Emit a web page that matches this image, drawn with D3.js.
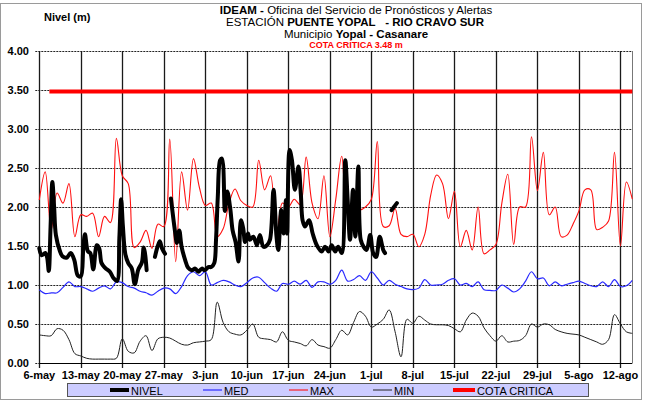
<!DOCTYPE html>
<html><head><meta charset="utf-8">
<script src="https://cdn.jsdelivr.net/npm/d3@7"></script>
<style>body{margin:0;background:#fff}svg{display:block}text{font-family:"Liberation Sans",Arial,sans-serif}</style>
</head><body><svg id="c" width="651" height="401"></svg>
<script>
// ---- data ----
const tickLabels = ["6-may","13-may","20-may","27-may","3-jun","10-jun","17-jun","24-jun","1-jul","8-jul","15-jul","22-jul","29-jul","5-ago","12-ago"];
const tickDays = [0,7,14,21,28,35,42,49,56,63,70,77,84,91,98];
const yTicks = [0,0.5,1,1.5,2,2.5,3,3.5,4];
const dayIndex = d3.range(0,101);
const maxVals = [2.09,2.45,1.70,2.18,2.05,2.30,1.62,1.90,1.88,1.92,1.62,1.88,1.80,2.88,2.40,2.30,1.48,1.55,1.70,1.47,
  1.78,1.75,2.87,1.30,2.45,1.96,2.62,2.25,2.02,2.05,1.62,1.72,2.05,2.23,2.08,2.02,2.00,2.60,2.22,2.40,
  1.62,2.05,2.00,2.10,2.03,2.64,2.05,1.85,2.40,1.62,2.10,2.65,2.00,1.96,1.96,2.00,2.10,2.84,1.75,1.76,
  1.98,1.65,1.62,1.65,1.49,1.65,2.15,2.41,2.30,1.85,2.20,1.49,1.70,1.45,2.00,1.40,1.45,1.52,2.05,2.42,
  1.52,2.00,2.00,2.90,2.21,2.70,1.90,2.00,1.62,1.64,1.78,1.95,2.22,2.22,1.71,1.74,1.82,2.70,1.50,2.32,2.10];
const medVals = [0.94,0.89,0.90,0.90,0.97,1.04,0.98,0.98,0.95,0.92,0.96,0.99,0.95,1.04,1.03,0.98,0.96,0.92,0.90,0.87,
  0.92,0.96,0.95,0.89,0.98,1.12,1.17,1.12,1.17,1.00,1.03,1.06,1.04,1.00,0.98,1.03,1.09,1.10,1.03,0.96,
  0.92,1.02,1.01,1.05,1.01,1.06,0.97,1.04,1.04,1.01,1.06,1.19,1.05,1.07,1.12,1.06,1.17,1.09,1.00,1.06,
  1.01,0.98,0.95,0.94,0.96,1.07,1.00,1.00,1.01,1.06,1.08,1.00,1.02,0.98,1.04,0.94,0.93,0.93,1.00,0.96,
  0.91,0.95,1.05,1.17,1.08,1.09,0.99,1.04,0.99,1.01,1.03,1.05,1.02,0.99,0.98,1.04,0.98,1.07,0.98,0.99,1.06];
const minVals = [0.36,0.35,0.35,0.44,0.42,0.30,0.12,0.09,0.06,0.05,0.05,0.05,0.05,0.06,0.31,0.15,0.13,0.28,0.35,0.16,
  0.31,0.33,0.32,0.28,0.24,0.23,0.26,0.27,0.28,0.30,0.78,0.52,0.40,0.37,0.36,0.42,0.50,0.33,0.31,0.30,
  0.27,0.40,0.29,0.27,0.25,0.22,0.30,0.23,0.21,0.19,0.30,0.42,0.36,0.52,0.66,0.60,0.46,0.50,0.56,0.68,
  0.40,0.08,0.56,0.51,0.60,0.55,0.50,0.49,0.49,0.48,0.44,0.40,0.55,0.64,0.60,0.45,0.35,0.28,0.35,0.27,
  0.28,0.29,0.35,0.50,0.46,0.50,0.49,0.43,0.40,0.38,0.37,0.36,0.33,0.30,0.27,0.24,0.30,0.62,0.50,0.40,0.38];
const nivelDays = [0.0,0.4,1.0,1.3,1.6,1.9,2.2,2.5,2.8,3.5,3.9,4.6,5.3,5.9,6.5,7.0,7.4,7.7,8.2,8.6,9.1,9.7,10.1,10.5,11.1,11.9,12.5,13.1,13.5,13.8,14.1,14.5,15.0,15.6,16.1,16.7,17.3,17.6,17.8,18.1,
  18.8,
  19.5,20.3,20.7,21.2,
  21.7,
  22.2,22.9,23.2,23.6,24.0,24.6,25.1,25.7,26.3,26.8,27.4,27.9,28.5,29.0,29.5,29.8,30.1,30.5,30.8,31.3,31.7,32.2,32.6,33.1,33.6,34.0,34.4,34.7,35.2,35.5,36.1,36.7,37.2,37.8,38.4,38.9,39.5,40.0,40.3,40.8,41.2,41.6,41.8,42.2,42.6,43.1,43.7,44.1,44.4,44.8,45.5,46.1,46.8,47.6,48.2,48.8,49.3,49.9,50.4,51.0,51.6,52.0,52.4,52.9,53.3,53.8,54.2,54.7,55.2,55.8,56.3,56.8,57.4,58.0,58.3,
  58.9,
  59.4,60.3];
const nivelVals = [1.47,1.38,1.41,1.36,1.18,1.75,2.32,2.00,1.64,1.43,1.37,1.35,1.41,1.32,1.12,1.11,1.45,1.65,1.43,1.41,1.20,1.51,1.47,1.28,1.22,1.17,1.09,1.05,1.60,2.10,1.75,1.40,1.28,1.21,1.01,1.20,1.29,1.48,1.42,1.19,
  null,
  1.36,1.56,1.47,1.40,
  null,
  2.11,1.68,1.54,1.70,1.49,1.32,1.22,1.19,1.21,1.17,1.21,1.19,1.23,1.23,1.28,1.58,2.13,2.60,2.62,1.95,2.20,1.98,1.70,1.55,1.30,1.83,1.72,1.55,1.66,1.58,1.62,1.51,1.64,1.49,1.51,1.58,2.22,1.62,1.45,1.96,1.66,2.09,1.66,2.73,2.60,2.22,2.52,2.17,1.83,1.75,1.83,1.66,1.51,1.43,1.49,1.43,1.51,1.43,1.49,1.41,2.60,2.09,1.58,2.22,1.62,2.52,1.58,1.49,1.45,1.64,1.41,1.36,1.62,1.45,1.41,
  null,
  1.96,2.05];
const cotaDays = [1.7, 100];
const cotaVals = [3.48, 3.48];

const legendNames = ["NIVEL","MED","MAX","MIN","COTA CRITICA"];
const legendColors = ["#000000","#2a2aff","#ff1010","#222222","#ff0000"];
const legendWidths = [4,1.2,1.1,1,4];

// ---- drawing ----
const svg = d3.select("#c");
const X0 = 39.3, X1 = 632.3, Y0 = 363, Y1 = 51;
const x = d3.scaleLinear().domain([0,100]).range([X0,X1]);
const y = d3.scaleLinear().domain([0,4]).range([Y0,Y1]);

// outer border
svg.append("rect").attr("x",0.5).attr("y",3.5).attr("width",641).attr("height",396)
  .attr("fill","none").attr("stroke","#9a9a9a").attr("stroke-width",1);

// horizontal dotted grid
svg.append("g").selectAll("line").data(yTicks).join("line")
  .attr("x1",X0-4).attr("x2",X1).attr("y1",d=>Math.round(y(d))+0.5).attr("y2",d=>Math.round(y(d))+0.5)
  .attr("stroke","#222").attr("stroke-width",1).attr("stroke-dasharray","2,1");

// vertical solid grid
svg.append("g").selectAll("line").data(tickDays).join("line")
  .attr("x1",d=>Math.round(x(d))+0.5).attr("x2",d=>Math.round(x(d))+0.5)
  .attr("y1",Y1).attr("y2",Y0+5)
  .attr("stroke","#1a1a1a").attr("stroke-width",1.3);
// right edge
svg.append("line").attr("x1",Math.round(X1)+0.5).attr("x2",Math.round(X1)+0.5).attr("y1",Y1).attr("y2",Y0)
  .attr("stroke","#777").attr("stroke-width",1);
// x axis line
svg.append("line").attr("x1",X0).attr("x2",X1).attr("y1",Y0+0.5).attr("y2",Y0+0.5).attr("stroke","#000").attr("stroke-width",1.2);

// y labels
svg.append("g").selectAll("text").data(yTicks).join("text")
  .attr("x",29).attr("y",d=>y(d)+4).attr("text-anchor","end")
  .attr("font-size",11).attr("font-weight","bold").text(d=>d3.format(".2f")(d));

// x labels
svg.append("g").selectAll("text").data(tickDays).join("text")
  .attr("x",d=>x(d)).attr("y",379).attr("text-anchor","middle")
  .attr("font-size",11).attr("font-weight","bold").text((d,i)=>tickLabels[i]);

const smooth = d3.curveCatmullRom.alpha(0.5);
const dayLine = vals => d3.line().curve(smooth).x((d,i)=>x(dayIndex[i])).y(d=>y(d))(vals);

// MIN
svg.append("path").attr("d",dayLine(minVals)).attr("fill","none").attr("stroke","#222").attr("stroke-width",1);
// MED
svg.append("path").attr("d",dayLine(medVals)).attr("fill","none").attr("stroke","#2a2aff").attr("stroke-width",1.2);
// MAX
svg.append("path").attr("d",dayLine(maxVals)).attr("fill","none").attr("stroke","#ff1010").attr("stroke-width",1.1);
// COTA
svg.append("path").attr("d",d3.line().x((d,i)=>x(cotaDays[i])).y(d=>y(d))(cotaVals))
  .attr("fill","none").attr("stroke","#ff0000").attr("stroke-width",4);
// NIVEL
const nivelLine = d3.line().defined(d=>d!=null).curve(smooth)
  .x((d,i)=>x(nivelDays[i])).y(d=>y(d));
svg.append("path").attr("d",nivelLine(nivelVals)).attr("fill","none").attr("stroke","#000")
  .attr("stroke-width",4).attr("stroke-linejoin","round").attr("stroke-linecap","round");

// titles
const t1 = svg.append("text").attr("x",356).attr("y",14).attr("text-anchor","middle").attr("font-size",11.5);
t1.append("tspan").attr("font-weight","bold").text("IDEAM -");
t1.append("tspan").text(" Oficina del Servicio de Pronósticos y Alertas");
const t2 = svg.append("text").attr("x",355).attr("y",26).attr("text-anchor","middle").attr("font-size",11.5);
t2.append("tspan").text("ESTACIÓN ");
t2.append("tspan").attr("font-weight","bold").text("PUENTE YOPAL\u00a0\u00a0 - RIO CRAVO SUR");
const t3 = svg.append("text").attr("x",356).attr("y",38).attr("text-anchor","middle").attr("font-size",11.5);
t3.append("tspan").text("Municipio ");
t3.append("tspan").attr("font-weight","bold").text("Yopal - Casanare");
svg.append("text").attr("x",356).attr("y",48).attr("text-anchor","middle").attr("font-size",9)
  .attr("font-weight","bold").attr("fill","#ff0000").text("COTA CRÍTICA 3.48 m");
svg.append("text").attr("x",44).attr("y",21).attr("font-size",11).attr("font-weight","bold").text("Nivel (m)");

// legend
svg.append("rect").attr("x",67.5).attr("y",383.5).attr("width",521).attr("height",13)
  .attr("fill","#ccccff").attr("stroke","#555").attr("stroke-width",1);
const legX = [110,203,289,373,453];
const lg = svg.append("g").selectAll("g").data(legendNames).join("g")
  .attr("transform",(d,i)=>`translate(${legX[i]},390)`);
lg.append("line").attr("x1",0).attr("x2",(d,i)=>i===4?22:19).attr("y1",0).attr("y2",0)
  .attr("stroke",(d,i)=>legendColors[i]).attr("stroke-width",(d,i)=>legendWidths[i]);
lg.append("text").attr("x",(d,i)=>i===4?24:21).attr("y",4.5).attr("font-size",11).text(d=>d);
</script></body></html>
